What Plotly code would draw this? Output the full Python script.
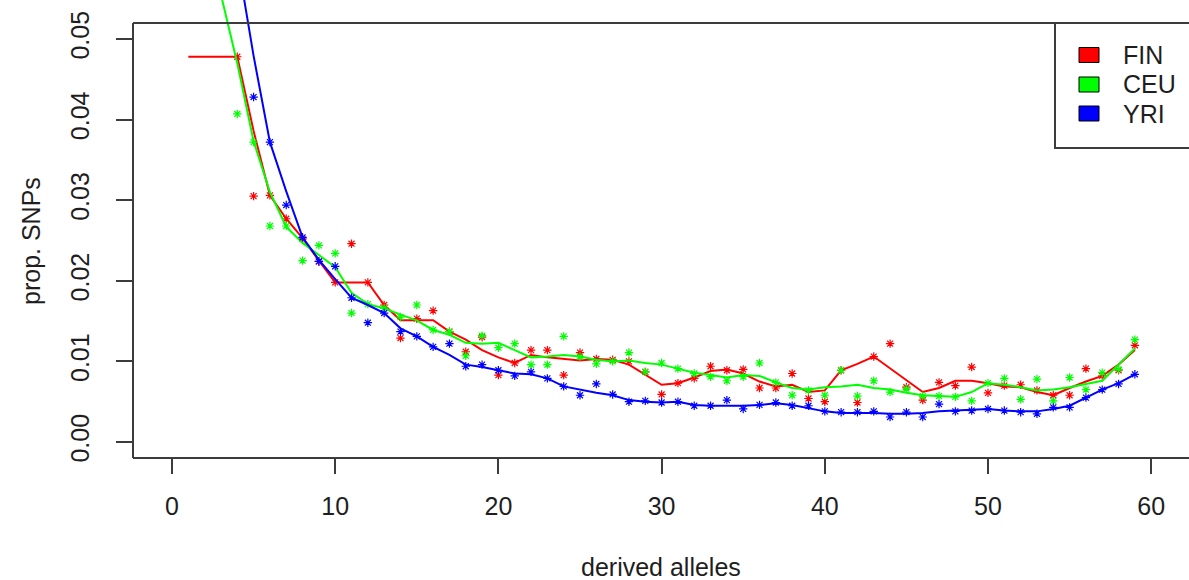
import plotly.graph_objects as go

x_vals = list(range(1, 60))

# star points (None = not visible in the picture)
fin_points = [None, None, None, 0.0478, 0.0305, 0.0306, 0.0277, 0.0252, 0.0224, 0.0198,
              0.0246, 0.0198, 0.0170, 0.0129, 0.0153, 0.0163, 0.0137, 0.0112, 0.0130, 0.0083,
              0.0098, 0.0114, 0.0114, 0.0083, 0.0111, 0.0103, 0.0102, 0.0100, 0.0087, 0.0059,
              0.0073, 0.0079, 0.0094, 0.0089, 0.0090, 0.0067, 0.0067, 0.0085, 0.0054, 0.0050,
              0.0089, 0.0049, 0.0106, 0.0122, 0.0068, 0.0052, 0.0074, 0.0070, 0.0093, 0.0061,
              0.0070, 0.0071, 0.0064, 0.0058, 0.0058, 0.0091, 0.0082, 0.0089, 0.0120]
ceu_points = [None, None, None, 0.0407, 0.0372, 0.0268, 0.0268, 0.0225, 0.0244, 0.0234,
              0.0160, 0.0171, 0.0166, 0.0155, 0.0170, 0.0139, 0.0137, 0.0107, 0.0132, 0.0117,
              0.0122, 0.0096, 0.0096, 0.0131, 0.0106, 0.0097, 0.0100, 0.0111, 0.0087, 0.0098,
              0.0091, 0.0085, 0.0081, 0.0076, 0.0081, 0.0098, 0.0074, 0.0058, 0.0064, 0.0058,
              0.0089, 0.0057, 0.0076, 0.0062, 0.0066, 0.0057, 0.0057, 0.0056, 0.0051, 0.0073,
              0.0079, 0.0053, 0.0078, 0.0051, 0.0080, 0.0065, 0.0086, 0.0090, 0.0127]
yri_points = [None, None, None, None, 0.0428, 0.0372, 0.0294, 0.0254, 0.0224, 0.0218,
              0.0179, 0.0148, 0.0160, 0.0137, 0.0131, 0.0118, 0.0122, 0.0094, 0.0096, 0.0089,
              0.0082, 0.0087, 0.0079, 0.0069, 0.0058, 0.0072, 0.0059, 0.0050, 0.0051, 0.0049,
              0.0050, 0.0045, 0.0045, 0.0052, 0.0041, 0.0046, 0.0049, 0.0045, 0.0045, 0.0038,
              0.0037, 0.0037, 0.0038, 0.0031, 0.0037, 0.0031, 0.0047, 0.0038, 0.0039, 0.0041,
              0.0039, 0.0037, 0.0035, 0.0043, 0.0043, 0.0055, 0.0065, 0.0072, 0.0084]

# smoothed lines
fin_line = [0.0478, 0.0478, 0.0478, 0.0478, 0.0386, 0.0306, 0.0277, 0.0253, 0.0225, 0.0198,
            0.0198, 0.0198, 0.0170, 0.0151, 0.0151, 0.0151, 0.0137, 0.0127, 0.0114, 0.0105,
            0.0098, 0.0108, 0.0105, 0.0103, 0.0101, 0.0103, 0.0102, 0.0096, 0.0083, 0.0071,
            0.0073, 0.0080, 0.0088, 0.0090, 0.0085, 0.0075, 0.0069, 0.0071, 0.0062, 0.0064,
            0.0089, 0.0097, 0.0106, 0.0091, 0.0077, 0.0062, 0.0067, 0.0076, 0.0076, 0.0073,
            0.0069, 0.0068, 0.0062, 0.0058, 0.0067, 0.0075, 0.0082, 0.0096, 0.0114]
ceu_line = [None, None, 0.0555, 0.0470, 0.0373, 0.0310, 0.0267, 0.0247, 0.0232, 0.0217,
            0.0185, 0.0171, 0.0166, 0.0158, 0.0151, 0.0139, 0.0133, 0.0123, 0.0122, 0.0123,
            0.0114, 0.0105, 0.0106, 0.0108, 0.0106, 0.0102, 0.0100, 0.0101, 0.0098, 0.0096,
            0.0091, 0.0086, 0.0083, 0.0080, 0.0083, 0.0082, 0.0074, 0.0067, 0.0065, 0.0068,
            0.0069, 0.0071, 0.0067, 0.0065, 0.0061, 0.0058, 0.0057, 0.0056, 0.0062, 0.0073,
            0.0071, 0.0068, 0.0064, 0.0065, 0.0068, 0.0072, 0.0076, 0.0096, 0.0116]
yri_line = [None, None, None, 0.0600, 0.0479, 0.0372, 0.0311, 0.0254, 0.0226, 0.0202,
            0.0179, 0.0170, 0.0160, 0.0141, 0.0131, 0.0118, 0.0108, 0.0096, 0.0093, 0.0089,
            0.0085, 0.0084, 0.0079, 0.0069, 0.0065, 0.0061, 0.0058, 0.0052, 0.0050, 0.0049,
            0.0050, 0.0046, 0.0045, 0.0045, 0.0045, 0.0046, 0.0048, 0.0046, 0.0042, 0.0038,
            0.0036, 0.0036, 0.0036, 0.0035, 0.0035, 0.0036, 0.0038, 0.0039, 0.0040, 0.0041,
            0.0039, 0.0038, 0.0038, 0.0041, 0.0045, 0.0055, 0.0065, 0.0073, 0.0084]

series_names = ["FIN", "CEU", "YRI"]
series_colors = ["#FF0000", "#00FF00", "#0000FF"]
x_tick_vals = [0, 10, 20, 30, 40, 50, 60]
y_tick_vals = [0.00, 0.01, 0.02, 0.03, 0.04, 0.05]
y_tick_text = ["0.00", "0.01", "0.02", "0.03", "0.04", "0.05"]

FONT = "Liberation Sans, Arial, Helvetica, sans-serif"
TXT = "#1e1e1e"
AX = "#3c3c3c"

fig = go.Figure()
for name, pts, ln, col in zip(series_names, [fin_points, ceu_points, yri_points],
                              [fin_line, ceu_line, yri_line], series_colors):
    fig.add_trace(go.Scatter(x=x_vals, y=ln, mode="lines", name=name,
                             line=dict(color=col, width=2), showlegend=False))
    fig.add_trace(go.Scatter(x=x_vals, y=pts, mode="markers", name=name,
                             marker=dict(symbol="asterisk-open", size=7, color=col,
                                         line=dict(color=col, width=1.2)),
                             showlegend=False, cliponaxis=False))

# geometry (pixels)
W, H = 1189, 580
L, B = 133, 122
PW = W - L
PH = H - B
box_top_px = 23

def px_x(p):
    return (p - L) / PW

def px_y(p):
    return (PH - p) / PH

shapes = []
# plot box (right side lies just outside the picture)
shapes.append(dict(type="line", xref="paper", yref="paper", x0=0, x1=0, y0=0, y1=px_y(box_top_px),
                   line=dict(color=AX, width=2)))
shapes.append(dict(type="line", xref="paper", yref="paper", x0=0, x1=1.01, y0=0, y1=0,
                   line=dict(color=AX, width=2)))
shapes.append(dict(type="line", xref="paper", yref="paper", x0=0, x1=1.01, y0=px_y(box_top_px),
                   y1=px_y(box_top_px), line=dict(color=AX, width=2)))
# legend box
shapes.append(dict(type="rect", xref="paper", yref="paper", x0=px_x(1055), x1=1.01,
                   y0=px_y(148), y1=px_y(box_top_px), line=dict(color=AX, width=2),
                   fillcolor="rgba(0,0,0,0)"))

annotations = []
legend_centers = [55, 84.5, 113.5]
for name, col, cy in zip(series_names, series_colors, legend_centers):
    shapes.append(dict(type="rect", xref="paper", yref="paper", x0=px_x(1079), x1=px_x(1099),
                       y0=px_y(cy + 7.5), y1=px_y(cy - 7.5), fillcolor=col,
                       line=dict(color="#000000", width=1)))
    annotations.append(dict(text=name, xref="paper", yref="paper", x=px_x(1121), y=px_y(cy),
                            xanchor="left", yanchor="middle", showarrow=False,
                            font=dict(family=FONT, size=25, color=TXT)))

annotations.append(dict(text="derived alleles", xref="paper", yref="paper",
                        x=px_x(661), y=px_y(567), xanchor="center", yanchor="middle",
                        showarrow=False, font=dict(family=FONT, size=25, color=TXT)))
annotations.append(dict(text="prop. SNPs", xref="paper", yref="paper",
                        x=px_x(31), y=px_y(241), xanchor="center", yanchor="middle",
                        textangle=-90, showarrow=False,
                        font=dict(family=FONT, size=25, color=TXT)))

y0_px = 442
ppu_y = 8060.0
ppu_x = 16.32
x0_px = 172

fig.update_layout(
    width=W, height=H,
    margin=dict(l=L, r=0, t=0, b=B, pad=0),
    paper_bgcolor="white", plot_bgcolor="white",
    font=dict(family=FONT, size=25, color=TXT),
    shapes=shapes, annotations=annotations,
    hovermode=False,
    xaxis=dict(range=[(L - x0_px) / ppu_x, (W - x0_px) / ppu_x],
               tickvals=x_tick_vals, ticks="outside", ticklen=15, tickwidth=1.6,
               tickcolor=AX, showgrid=False, zeroline=False, showline=False,
               automargin=False,
               tickfont=dict(family=FONT, size=25, color=TXT), ticklabelstandoff=11),
    yaxis=dict(range=[(y0_px - PH) / ppu_y, y0_px / ppu_y],
               tickvals=y_tick_vals, ticktext=y_tick_text, tickangle=-90,
               ticks="outside", ticklen=16, tickwidth=1.6, tickcolor=AX,
               showgrid=False, zeroline=False, showline=False,
               automargin=False,
               tickfont=dict(family=FONT, size=25, color=TXT), ticklabelstandoff=17),
)

fig.write_html("out.html", config={"displayModeBar": False},
               post_script="document.body.style.margin='0px';document.body.style.padding='0px';")
